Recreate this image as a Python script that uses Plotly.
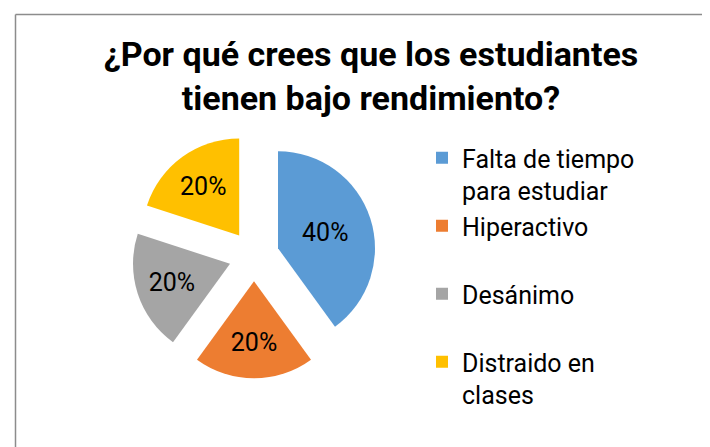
import plotly.graph_objects as go

# data
labels = ["Falta de tiempo para estudiar", "Hiperactivo", "Desánimo", "Distraido en clases"]
legend_text = ["Falta de tiempo<br>para estudiar", "Hiperactivo<br> ", "Desánimo<br> ", "Distraido en<br>clases"]
values = [40, 20, 20, 20]
colors = ["#5B9BD5", "#ED7D31", "#A5A5A5", "#FFC000"]

W, H = 710, 447
FONT = "Roboto"

# pie centre ~(253, 256) px, radius ~97 px, pull ~0.26
pull = 0.26
half = 97 * (1 + pull)
cx, cy = 246, 248

fig = go.Figure()

fig.add_trace(go.Pie(
    labels=legend_text,
    values=values,
    marker=dict(colors=colors, line=dict(width=0)),
    sort=False,
    direction="clockwise",
    rotation=0,
    pull=[pull] * len(values),
    textinfo="percent",
    textposition="inside",
    insidetextorientation="horizontal",
    insidetextfont=dict(family=FONT, size=25, color="black"),
    hovertext=labels,
    hoverinfo="text+percent",
    domain=dict(
        x=[(cx - half) / W, (cx + half) / W],
        y=[1 - (cy + half) / H, 1 - (cy - half) / H],
    ),
))

fig.update_layout(
    width=W,
    height=H,
    margin=dict(l=0, r=0, t=0, b=0),
    paper_bgcolor="white",
    plot_bgcolor="white",
    title=dict(
        text="<b>¿Por qué crees que los estudiantes<br>tienen bajo rendimiento?</b>",
        x=363 / W,
        xanchor="center",
        y=1 - 58 / H,
        yanchor="middle",
        yref="container",
        font=dict(family=FONT, size=34, color="black"),
    ),
    showlegend=True,
    legend=dict(
        x=414 / W,
        y=1 - 127 / H,
        xanchor="left",
        yanchor="top",
        valign="top",
        font=dict(family=FONT, size=25, color="black"),
        itemwidth=30,
        bgcolor="rgba(0,0,0,0)",
    ),
)

# chart-area border (top and left edges visible)
border = dict(color="#8C8C8C", width=1.5)
fig.add_shape(type="line", xref="paper", yref="paper",
              x0=7.5 / W, x1=1, y0=1 - 6.5 / H, y1=1 - 6.5 / H, line=border)
fig.add_shape(type="line", xref="paper", yref="paper",
              x0=7.5 / W, x1=7.5 / W, y0=0, y1=1 - 6.5 / H, line=border)

fig.write_html("out.html")
